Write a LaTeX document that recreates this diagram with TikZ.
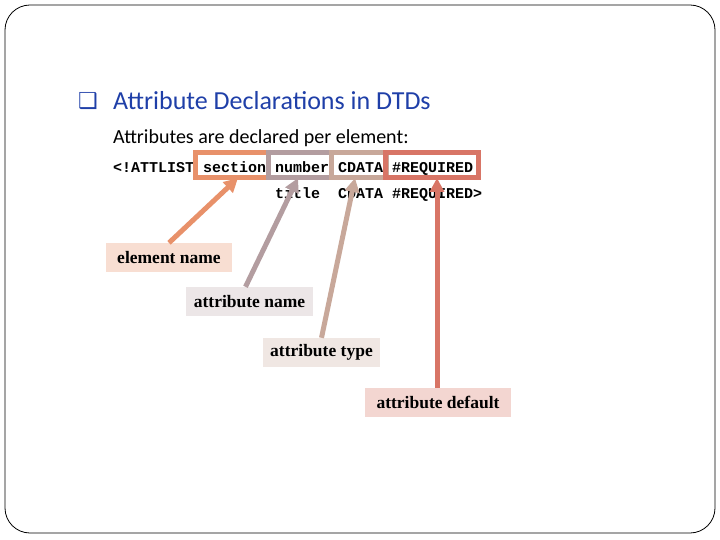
\documentclass[tikz,border=0pt]{standalone}
\usepackage{fontspec}
\setmainfont{Liberation Serif}
\newfontfamily\calfont{Carlito}
\newfontfamily\monofont{Liberation Mono}
\newfontfamily\dvfont{DejaVu Sans}
\usetikzlibrary{arrows.meta}
\definecolor{cA}{HTML}{E8916A}
\definecolor{cB}{HTML}{B39DA0}
\definecolor{cC}{HTML}{C8A89A}
\definecolor{cD}{HTML}{D87566}
\definecolor{tblue}{HTML}{1F3FA8}
\tikzset{
 code/.style={inner sep=0pt,anchor=base west,font=\monofont\bfseries\fontsize{15}{15}\selectfont},
 lab/.style={inner sep=0pt,minimum height=29pt,font=\bfseries\fontsize{17.5}{17.5}\selectfont},
 hb/.style={line width=5pt},
 arr/.style={line width=5pt,-{Triangle[length=14pt,width=14pt]}}
}
\begin{document}
\begin{tikzpicture}[x=1pt,y=-1pt]
\useasboundingbox (0,0) rectangle (720,540);
\draw[line width=0.8pt,rounded corners=25pt] (5,5) rectangle (715,533);
\node[anchor=base west,inner sep=0pt,text=tblue,font=\dvfont\fontsize{22}{22}\selectfont] (chk) at (78,109) {❑};
\node[anchor=base west,inner sep=0pt,text=tblue,font=\calfont\fontsize{26}{26}\selectfont] (title) at (113,110) {Attribute Declarations in DTDs};
\node[anchor=base west,inner sep=0pt,font=\calfont\fontsize{20}{20}\selectfont] (sub) at (113,144) {Attributes are declared per element:};
% code
\node[code] (l1) at (113,173) {<!ATTLIST section number CDATA \#REQUIRED};
\node[code] (t2) at (275,199) {title};
\node[code] (c2) at (338,199) {CDATA};
\node[code] (r2) at (392,199) {\#REQUIRED>};
% boxes
\draw[hb,cA] (195,153) rectangle (268,178);
\draw[hb,cB] (268,153) rectangle (331,178);
\draw[hb,cC] (331,153) rectangle (386,178);
\draw[hb,cD] (385,153) rectangle (478,178);
\coordinate (sec) at (238,178);
\coordinate (num) at (298,178);
\coordinate (cda) at (355,178);
\coordinate (req) at (437,178);
% labels
\node[lab,fill=cA!30,minimum width=126pt] (en) at (169,257.5) {element name};
\node[lab,fill=cB!25,minimum width=127pt] (an) at (249.5,301.5) {attribute name};
\node[lab,fill=cC!28,minimum width=117pt] (at) at (321.5,352.5) {attribute type};
\node[lab,fill=cD!30,minimum width=146pt] (ad) at (438,402.5) {attribute default};
\draw[arr,cA] (en.north) -- (sec);
\draw[arr,cB] (an.north) ++(-4,0) -- (num);
\draw[arr,cC] (at.north) -- (cda);
\draw[arr,cD] (ad.north -| req) -- (req);
\end{tikzpicture}
\end{document}
